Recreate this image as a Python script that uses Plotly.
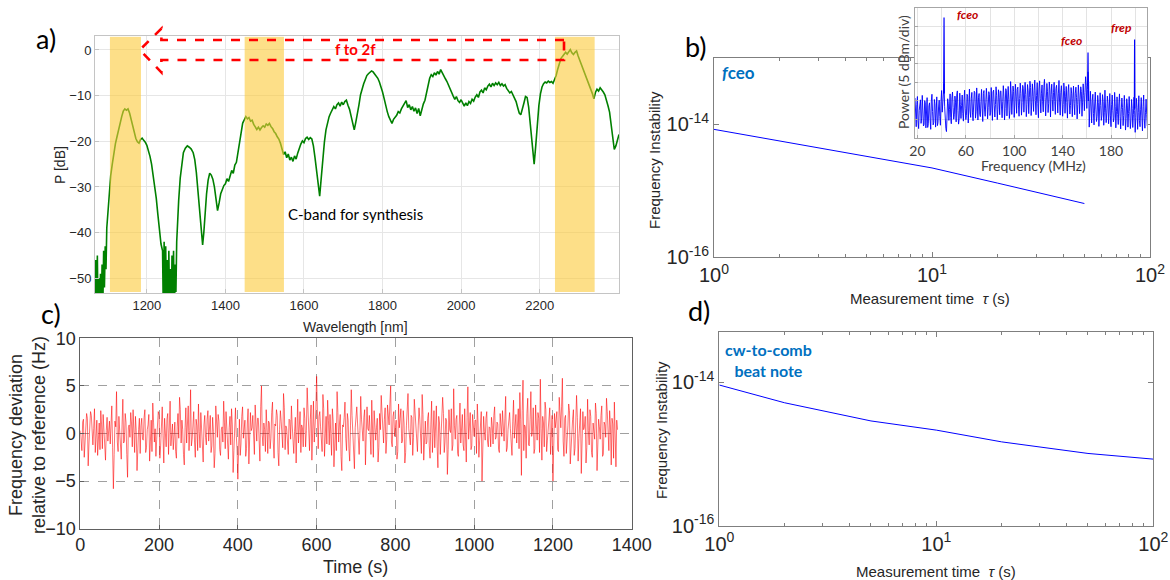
import plotly.graph_objects as go

# ---------------------------------------------------------------- data
# a) supercontinuum spectrum
wl_nm = [1068, 1070, 1072, 1074, 1076, 1078, 1080, 1082, 1084, 1086, 1088, 1090, 1092, 1094, 1096, 1098,
         1101, 1104, 1108, 1112, 1116, 1120, 1124, 1128, 1132, 1136, 1140, 1144, 1148, 1152, 1156, 1160,
         1164, 1168, 1172, 1176, 1180, 1184, 1188, 1192, 1196, 1200, 1204, 1208, 1212, 1216, 1220, 1224,
         1228, 1232, 1236, 1240,
         1242, 1244, 1246, 1248, 1250, 1252, 1254, 1256, 1258, 1260, 1262, 1264, 1266, 1268, 1270, 1272,
         1274, 1276, 1278,
         1281, 1285, 1289, 1293, 1298, 1303, 1308, 1313, 1318, 1322, 1326, 1330, 1334, 1338, 1342, 1345,
         1348, 1352, 1356, 1360, 1364, 1368, 1372, 1376, 1380, 1384, 1388, 1392, 1396, 1400, 1404, 1408,
         1412, 1416, 1420, 1424, 1428, 1432, 1436, 1440, 1444, 1448, 1452, 1456, 1460, 1464, 1468, 1472,
         1476, 1480, 1484, 1488, 1492, 1496, 1500, 1504, 1508, 1512, 1516, 1520, 1524, 1528, 1532, 1536,
         1540, 1544, 1548, 1552, 1556, 1560, 1564, 1568, 1572, 1576, 1580, 1584, 1588, 1592, 1596, 1600,
         1604, 1608, 1612, 1616, 1620, 1624, 1628, 1632, 1636, 1640, 1644, 1648, 1652, 1656, 1660, 1664,
         1668, 1672, 1676, 1680, 1684, 1688, 1692, 1696, 1700, 1704, 1708, 1712, 1716, 1720, 1724, 1728,
         1732, 1736, 1740, 1744, 1748, 1752, 1756, 1760, 1764, 1768, 1772, 1776, 1780, 1784, 1788, 1792,
         1796, 1800, 1804, 1808, 1812, 1816, 1820, 1824, 1828, 1832, 1836, 1840, 1844, 1848, 1852, 1856,
         1860, 1864, 1868, 1872, 1876, 1880, 1884, 1888, 1892, 1896, 1900, 1904, 1908, 1912, 1916, 1920,
         1924, 1928, 1932, 1936, 1940, 1944, 1948, 1952, 1956, 1960, 1964, 1968, 1972, 1976, 1980, 1984,
         1988, 1992, 1996, 2000, 2004, 2008, 2012, 2016, 2020, 2024, 2028, 2032, 2036, 2040, 2044, 2048,
         2052, 2056, 2060, 2064, 2068, 2072, 2076, 2080, 2084, 2088, 2092, 2096, 2100, 2104, 2108, 2112,
         2116, 2120, 2124, 2128, 2132, 2136, 2140, 2144, 2148, 2152, 2156, 2160, 2164, 2168, 2172, 2176,
         2180, 2184, 2186, 2190, 2194, 2198, 2202, 2206, 2210, 2214, 2218, 2222, 2226, 2230, 2234, 2238,
         2242, 2246, 2250, 2254, 2258, 2262, 2266, 2270, 2274, 2278, 2282, 2286, 2290, 2294, 2298, 2302,
         2306, 2310, 2314, 2318, 2322, 2326, 2330, 2334, 2338, 2342, 2346, 2350, 2354, 2358, 2362, 2366,
         2370, 2374, 2378, 2382, 2386, 2390, 2394, 2398, 2402]
p_db = [-60, -46, -58, -45, -60, -50, -60, -49, -58, -47, -56, -44, -52, -43, -48, -39,
        -35, -31, -27.5, -25, -22.5, -20.5, -19, -17.3, -16, -14.6, -13.4, -12.9, -13.2, -12.9, -13.8, -15.2,
        -16.8, -18.3, -19.4, -20.1, -20.4, -19.6, -19.3, -19.8, -20.2, -20.9, -22, -23.3, -25, -27.2, -29.5, -32.5,
        -36, -39.5, -42.5, -44,
        -58, -42, -60, -43, -57, -46, -60, -44, -59, -48, -60, -45, -56, -44, -60, -47,
        -53, -42, -38,
        -33, -28, -24.6, -22.5, -21.5, -21, -21.3, -21.7, -22.5, -24, -26.8, -30.5, -35, -39.5, -42.7, -40,
        -35.5, -31.5, -28.5, -27, -27.4, -28.3, -30, -33, -35.2, -33.5, -31.5, -30.6, -29.7, -29.3, -28.2, -28.8,
        -27.3, -26.4, -27, -25.2, -24.6, -22.4, -20.3, -17.8, -16, -15.3, -14.6, -15.1, -14.8, -15.6, -15.4, -16.3,
        -16.8, -17.4, -16.9, -17.5, -17, -16.6, -16.9, -16.2, -16.5, -16.1, -16.8, -17.2, -17.9, -18.3, -19, -19.5,
        -20.4, -21.8, -22.9, -22.3, -23.6, -22.8, -24.1, -23.5, -24.4, -23.2, -23.9, -22.6, -21.4, -20.6, -19.9, -20.3,
        -19.4, -19.1, -19.6, -19.2, -19.5, -21, -23.5, -26.5, -30, -32, -28, -23, -20.2, -17.5, -15.8, -14.6,
        -13.8, -13.2, -12.4, -12.9, -12, -11.6, -12.3, -11.4, -12, -11.3, -11, -12.1, -13, -14.5, -16.2, -17.5,
        -15.8, -14.2, -12, -9.8, -8.3, -7.4, -6.5, -5.6, -5.2, -4.9, -4.6, -4.8, -5.3, -5.6, -6.2, -7,
        -8, -9.2, -10.6, -12.2, -13.5, -14.6, -15.6, -16.1, -15.2, -14.7, -14.3, -13.5, -13.8, -12.9, -12.3, -11.5,
        -11.1, -12.6, -12, -13.1, -12.4, -13.4, -12.7, -13.9, -12.8, -14.4, -13, -11.8, -11, -9.2, -7.7, -6.2,
        -5.4, -5.8, -5, -5.5, -4.7, -5.3, -4.3, -5.1, -5.6, -6.3, -6.9, -7.8, -8.6, -9.3, -10.1, -10.8,
        -10.2, -11.1, -11.5, -10.9, -11.8, -12.3, -11.6, -12.2, -11.3, -11.7, -10.8, -11.2, -10.3, -9.8, -10.4, -9.2,
        -8.8, -9.4, -8.3, -8.7, -7.9, -7.5, -8.1, -7.3, -7.8, -7.2, -7.6, -7.1, -7.8, -7.4, -7.9, -7.6,
        -8.4, -8.9, -9.4, -9.1, -9.8, -10.4, -11.3, -12.6, -13.8, -14.2, -13.1, -11.6, -10.2, -10.4, -12.5, -16,
        -20.5, -24.5, -25, -21, -15.8, -12.2, -9.6, -8.1, -7.4, -7, -7.2, -6.8, -7.1, -6.9, -7.3, -6.6,
        -5.6, -4.2, -2.8, -1.9, -1.4, -0.8, -0.5, -0.9, -0.3, 0.1, -0.6, -1, -0.5, -0.2, -1.3, -2.2,
        -3, -4, -4.8, -5.7, -6.6, -7.5, -8.3, -9.5, -10.7, -9.3, -8.6, -9, -8.3, -8.7, -9.2, -9.8,
        -10.8, -12.2, -13.6, -16.5, -19.8, -21.8, -21, -19.5, -18.5]

# highlighted bands (nm)
band_lo = [1106, 1449, 2239]
band_hi = [1185, 1549, 2340]

# f-to-2f arrow outline (nm, dB)
arrow_nm = [2262, 1237, 1237, 1182, 1237, 1237, 2262]
arrow_db = [2.2, 2.2, 4.7, 0.0, -4.9, -2.2, -2.2]

# b) fceo instability
tau_b = [1, 2, 5, 10, 20, 50]
adev_b = [8.4e-15, 5.6e-15, 3.3e-15, 2.2e-15, 1.3e-15, 6.4e-16]

# b) inset RF spectrum: samples on whole MHz (18..210) and on half MHz (18.5..209.5)
rf_f0, rf_f1 = 18, 210
rf_pow = [10.8, 3.1, 11.2, 2.6, 9.7, 4.0, 11.5, 3.3, 10.1, 2.8, 10.9, 3.9, 9.5, 2.4, 11.8, 3.6, 10.4, 3.0, 11.1, 4.2,
          10.2, 3.5, 12.8, 9.5, 14.6, 4.2, 1.8, 10.6, 4.8, 11.9, 3.9, 12.4, 5.1, 11.3, 4.4, 12.7, 3.8, 12.1, 5.3, 11.6,
          4.6, 12.9, 5.0, 11.8, 4.1, 13.2, 5.6, 12.3, 4.7, 12.6, 5.4, 13.5, 4.9, 12.0, 5.8, 13.1, 4.5, 12.8, 5.9, 13.4,
          5.2, 12.5, 6.1, 13.6, 4.8, 12.9, 5.7, 13.8, 5.0, 13.0, 6.3, 12.7, 5.5, 14.1, 4.9, 13.3, 6.0, 13.9, 5.3, 15.2,
          6.4, 14.0, 5.6, 14.5, 6.7, 13.7, 5.9, 14.8, 6.2, 14.2, 7.0, 15.0, 5.8, 14.4, 6.6, 15.3, 6.1, 14.6, 7.2, 15.6,
          6.3, 14.9, 5.5, 15.4, 6.8, 14.3, 7.1, 15.8, 6.0, 14.7, 6.9, 15.1, 5.7, 14.5, 7.3, 15.0, 6.4, 14.2, 6.8, 15.5,
          6.2, 14.1, 5.9, 14.8, 6.7, 13.9, 5.4, 14.4, 6.5, 13.6, 5.8, 14.0, 6.3, 13.7, 5.2, 14.3, 6.6, 13.8, 5.9, 14.6,
          7.4, 16.5, 8.0, 17.8, 3.0, 12.6, 4.1, 11.8, 3.6, 12.4, 4.5, 11.5, 3.2, 12.2, 4.8, 11.7, 3.5, 12.9, 4.2, 11.3,
          3.9, 12.0, 3.1, 11.6, 4.4, 12.3, 2.8, 11.1, 3.7, 11.9, 2.5, 10.8, 3.4, 11.5, 2.2, 10.6, 3.0, 11.2, 2.6, 10.4,
          2.9, 11.0, 1.6, 10.7, 2.4, 11.4, 3.1, 10.9, 2.0, 11.6, 2.7, 10.5, 3.3]
rf_pow_half = [6.2, 9.1, 4.8, 7.5, 10.3, 5.4, 8.0, 3.7, 9.6, 6.6, 2.9, 8.7, 5.1, 10.0, 7.2, 4.3, 9.3, 6.0, 3.4, 8.4,
               5.8, 9.9, 7.0, 13.5, 8.6, 2.6, 6.9, 9.4, 7.7, 5.6, 10.8, 8.2, 6.3, 9.7, 11.6, 7.4, 5.2, 9.0, 8.8, 6.7,
               10.1, 7.9, 6.1, 11.3, 8.5, 7.3, 10.6, 6.8, 9.2, 12.2, 7.1, 8.9, 11.0, 6.5, 9.8, 8.1, 12.0, 7.6, 9.5, 10.4,
               8.3, 11.7, 7.0, 10.2, 12.4, 8.7, 9.1, 11.4, 7.8, 10.9, 12.6, 8.4, 9.9, 11.1, 8.0, 12.8, 9.3, 10.5, 7.5, 11.9,
               10.0, 12.5, 9.2, 11.3, 13.1, 8.9, 10.7, 12.0, 9.6, 13.4, 10.3, 11.8, 9.0, 12.7, 10.9, 13.6, 9.5, 11.2, 12.9, 10.1,
               11.5, 9.3, 13.2, 10.6, 12.1, 9.8, 13.7, 11.0, 10.2, 12.6, 9.4, 13.0, 11.7, 10.4, 12.3, 9.9, 13.3, 10.8, 11.9, 9.7,
               12.2, 10.5, 9.1, 12.8, 11.1, 9.6, 12.4, 10.0, 8.8, 11.9, 10.6, 9.3, 12.1, 10.9, 9.0, 11.6, 10.3, 12.5, 9.7, 11.4,
               12.3, 14.2, 13.0, 15.0, 7.9, 8.4, 10.1, 6.6, 9.2, 7.8, 5.9, 9.6, 7.3, 8.8, 6.2, 9.9, 7.0, 8.1, 6.8, 9.4,
               7.6, 6.0, 9.0, 7.4, 5.5, 8.6, 7.1, 6.4, 9.2, 5.8, 7.7, 8.3, 6.1, 7.9, 5.3, 8.9, 6.6, 7.2, 5.0, 8.0,
               6.3, 7.5, 5.6, 8.2, 6.9, 4.8, 7.8, 6.0, 8.5, 5.2, 7.0, 6.4]
# beat-note peaks (MHz, dB above floor)
peak_f = [[41.7, 42.0, 42.3], [160.7, 161.0, 161.3], [199.3, 199.5, 199.7]]
peak_p = [[12.0, 32.4, 12.0], [14.0, 23.0, 10.0], [8.0, 26.5, 8.0]]

# c) frequency deviation, readings every 2 s (t = 0, 4, 8 ... and t = 2, 6, 10 ...)
dt_c = 2
dev_hz_even = [0.3, -1.8, 1.5, -0.6, 2.1, -3.4, 0.8, 1.9, -1.2, 2.6, -0.4, -2.3, 1.1, 2.4, -1.6, 0.5, -2.8, 1.7, 0.2, -1.1,
               2.9, -5.8, 1.3, 4.4, -1.9, 0.6, -2.7, 3.6, -0.8, 1.2, -4.6, 0.9, 2.2, -1.4, -0.3, 1.8, -3.9, 0.4, -2.1, 1.6,
               -0.7, 2.5, -1.5, 0.9, -2.9, 1.4, 3.2, -0.9, -2.4, 0.7, 1.9, -1.3, 2.8, -3.1, 0.1, 1.5, -2.2, 3.4, -0.5, -1.7,
               1.2, -2.6, 2.1, 3.8, -1.0, 0.4, -3.3, 2.7, 1.1, -1.8, 4.6, -0.6, 2.3, -2.5, 0.8, 3.1, -1.5, 0.2, -3.0, 1.9,
               -1.2, 2.4, 0.5, -2.0, 1.7, -3.6, 2.9, -0.4, 1.3, -2.3, 0.7, 3.4, -1.6, 0.1, -2.7, 1.8, 2.6, -4.1, 0.9, -0.2,
               -4.8, 1.5, -1.1, 2.8, 0.3, -2.4, 1.0, -3.2, 2.2, 0.6, -1.5, 3.0, -0.8, 1.6, -2.9, 5.0, -1.3, 0.4, 2.5, -2.1,
               1.1, -0.5, 3.3, -2.6, 0.8, 1.9, -3.4, 2.4, -0.9, 4.2, -1.7, 0.5, -2.2, 1.4, 2.9, -1.0, 0.2, -3.1, 3.6, 1.2,
               -2.0, 0.6, 2.7, -1.4, 4.8, -0.3, 1.5, -2.8, 3.4, 0.9, 6.0, -1.6, 2.3, -0.7, 4.1, -2.4, 1.8, 3.5, -1.2, 0.4,
               2.6, -3.5, 1.1, 4.4, -0.9, 2.0, -3.9, 0.7, 3.3, -1.8, 1.4, -2.9, 4.6, 0.2, -3.7, 2.4, 1.0, -2.2, 3.9, -0.5,
               1.7, -3.3, 2.8, 0.3, -1.6, 3.5, -2.5, 1.2, 0.6, -3.0, 2.1, 4.0, -0.8, 1.5, -2.1, 3.0, 0.9, 5.0, -1.4, 2.3,
               0.4, -2.7, 3.1, 1.6, -1.0, 2.4, -3.1, 0.8, 4.2, -0.6, 1.9, -2.3, 3.6, 0.2, -1.9, 2.7, -0.4, 4.1, -2.8, 1.3,
               -0.9, 2.2, -2.6, 3.4, 0.7, -1.5, 2.9, -3.6, 1.1, 0.4, 3.8, -2.0, 1.6, -4.3, 2.5, 0.1, -1.8, 4.7, -0.6, 1.9,
               -2.4, 3.2, 0.8, -1.2, 2.6, -3.0, 4.9, 0.5, -1.7, 2.0, -0.3, 1.4, 3.1, -2.5, 0.9, -5.0, 1.8, -0.7, 2.3, -1.4,
               0.6, 1.7, -1.1, 2.8, -0.4, 1.0, -2.0, 0.3, 2.4, -0.8, 3.9, -1.5, 1.2, 0.5, -2.3, 3.5, 0.8, -1.0, 2.6, 4.3,
               -4.4, 5.6, 0.9, -2.6, 3.7, -1.3, 4.4, 0.2, -2.1, 3.0, -0.7, 1.6, 5.7, -2.8, 1.1, 3.3, -1.9, 0.5, 2.7, -0.4,
               -5.0, 2.1, 1.3, -1.7, 3.8, 0.6, 5.8, -2.4, 1.9, -0.9, 3.1, -3.2, 0.4, 2.5, -1.6, 4.0, -2.9, 1.2, -4.2, 2.3,
               0.7, -3.1, 3.6, -1.2, 1.8, -2.5, 0.3, 3.2, -3.9, 1.5, -0.6, 2.9, -2.2, 0.9, 3.7, -1.4, 2.4, -3.3, 1.0, 3.3,
               -3.5, 0.4]
dev_hz_odd = [-0.9, 1.2, -2.5, 0.4, 1.6, -1.1, 2.3, -0.7, 0.5, -2.0, 1.4, 0.2, -1.7, 0.9, 2.0, -2.4, 0.3, -0.8, 1.3, 2.2,
              -1.5, -2.2, 0.7, -0.9, 1.8, -1.2, 0.9, -1.0, 2.1, -2.2, 0.6, -0.4, 1.1, 2.5, -2.0, 0.3, -1.1, 1.6, 0.8, -0.6,
              1.7, -2.0, 0.4, 2.0, -0.8, -1.9, 1.2, 0.5, -0.6, 2.3, -2.6, 0.8, -0.2, 1.6, -1.4, 2.1, 0.6, -1.3, 1.0, 0.2,
              -1.9, 0.7, -0.5, 2.5, 1.4, -2.2, 0.6, -1.0, 2.9, 0.3, -1.3, 2.0, -0.9, 1.5, -1.8, 0.2, 2.2, -2.6, 0.9, -0.4,
              1.5, -0.8, 1.9, -1.3, 0.2, -2.1, 0.8, 2.0, -1.7, 0.4, -0.9, 1.2, 2.3, -2.4, 0.6, -1.2, 0.9, -1.8, 2.7, -1.6,
              0.7, -2.3, 1.8, -0.5, 1.4, -1.6, 2.6, -0.9, 0.3, 1.9, -2.2, 0.5, 1.6, -0.7, 2.8, -0.2, 1.1, -1.9, 0.6, 1.3,
              -1.6, 2.2, -0.9, 1.0, 2.5, -2.0, 0.4, 1.3, -1.5, 2.7, 0.8, -1.3, 1.5, -0.6, 0.9, -2.1, 1.7, 0.5, -1.0, 2.3,
              0.9, -1.4, 1.6, 0.3, 2.1, -1.8, 3.0, 0.6, -0.9, 2.4, -0.4, 1.8, 0.7, -1.9, 2.6, 0.2, -1.1, 1.4, 2.0, -2.3,
              1.3, 0.4, -1.8, 2.2, 1.0, -2.4, 0.9, 1.7, -0.5, 2.1, -1.6, 0.8, 1.9, -2.0, 0.6, 2.8, -1.3, 0.3, 1.5, -0.8,
              2.5, -1.2, 0.5, 1.9, -2.2, 0.8, 2.4, -0.7, 1.6, -1.5, 0.4, 2.3, -1.0, 2.7, -0.6, 1.2, 3.1, -0.9, 1.8, -0.3,
              1.4, -1.9, 0.6, 2.6, -0.8, 1.1, -2.0, 2.3, 0.5, -1.2, 1.7, -0.4, 2.2, -1.6, 0.8, 1.5, -2.1, 2.0, 0.3, -1.1,
              1.6, -1.3, 0.9, -2.0, 2.4, 0.2, -1.4, 1.8, -2.2, 0.7, 2.1, -0.9, 1.3, -1.7, 0.4, 2.6, -1.2, 0.8, 1.5, -2.1,
              0.9, -1.0, 2.0, -1.8, 0.5, 1.7, -0.6, 2.2, -1.3, 0.6, 1.4, -2.1, 1.0, -0.7, 2.3, -1.5, 0.2, 1.6, -0.9, 0.7,
              -1.4, 0.8, 1.9, -0.6, 1.2, -1.7, 2.1, -0.3, 0.9, 1.6, -1.9, 0.4, 2.2, -1.1, 1.3, -0.5, 2.0, 0.6, -1.6, 1.5,
              2.4, -1.8, 0.7, 2.1, -1.2, 1.5, -0.3, 2.7, -1.6, 0.9, 2.2, -2.0, 0.5, 1.8, -1.4, 2.5, -0.7, 1.1, -2.2, 1.9,
              -1.1, 0.6, 2.3, -1.9, 1.2, 2.8, -0.8, 1.6, -2.1, 0.8, 2.4, -1.0, 1.5, -2.3, 0.9, 1.7, -0.5, 2.6, -1.4, 0.4,
              1.8, -1.5, 0.3, 2.5, -2.0, 1.1, -0.6, 2.1, -1.7, 0.7, 1.9, -2.4, 1.2, -0.4, 2.3, -1.8, 0.9, 1.6, -2.6, 0.5,
              1.4]

# d) cw-to-comb beat note instability
tau_d = [1, 2, 5, 10, 20, 50, 100]
adev_d = [9.2e-15, 5.2e-15, 2.9e-15, 2.16e-15, 1.48e-15, 1.02e-15, 8.5e-16]

assert len(wl_nm) == len(p_db)
assert len(rf_pow) == rf_f1 - rf_f0 + 1
assert len(rf_pow_half) == len(rf_pow) - 1
assert len(dev_hz_even) == len(dev_hz_odd) + 1

# ---------------------------------------------------------------- layout helpers
W, H = 1170, 580


def dom_x(a, b):
    return [a / W, b / W]


def dom_y(top, bottom):
    return [1 - bottom / H, 1 - top / H]


# panel boxes in pixels: left, right, top, bottom
BOX_A = (95, 619, 36.3, 293.3)
BOX_B = (714, 1150, 58, 257)
BOX_C = (80.3, 631.7, 338.3, 528.7)
BOX_D = (719.3, 1153.3, 332.3, 525.7)
BOX_I = (915, 1147.3, 7.7, 138.3)

A_XR = [1068, 2402]
A_YR = [-53.3, 3]


def a_to_paper(x, y):
    l, r, t, b = BOX_A
    xp = (l + (x - A_XR[0]) / (A_XR[1] - A_XR[0]) * (r - l)) / W
    yp = 1 - (b - (y - A_YR[0]) / (A_YR[1] - A_YR[0]) * (b - t)) / H
    return xp, yp


def interleave(first, second):
    out = []
    for i, v in enumerate(first):
        out.append(v)
        if i < len(second):
            out.append(second[i])
    return out


TXT = '#262626'
SANS = 'Liberation Sans, Arial, sans-serif'
CAL = 'Lato, Open Sans, sans-serif'

fig = go.Figure()

# a) spectrum
fig.add_trace(go.Scatter(x=wl_nm, y=p_db, mode='lines', xaxis='x', yaxis='y',
                         line=dict(color='#008000', width=1.6)))
# c) deviation
dev_hz = interleave(dev_hz_even, dev_hz_odd)
t_s = [i * dt_c for i in range(len(dev_hz))]
fig.add_trace(go.Scatter(x=t_s, y=dev_hz, mode='lines', xaxis='x2', yaxis='y2',
                         line=dict(color='rgba(255,0,0,0.8)', width=0.7)))
# b) fceo
fig.add_trace(go.Scatter(x=tau_b, y=adev_b, mode='lines', xaxis='x3', yaxis='y3',
                         line=dict(color='#0000ff', width=1)))
# d) beat note
fig.add_trace(go.Scatter(x=tau_d, y=adev_d, mode='lines', xaxis='x4', yaxis='y4',
                         line=dict(color='#0000ff', width=1)))
# inset
rf_p = interleave(rf_pow, rf_pow_half)
rf_f = [rf_f0 + 0.5 * i for i in range(len(rf_p))]
fig.add_trace(go.Scatter(x=rf_f, y=rf_p, mode='lines', xaxis='x5', yaxis='y5',
                         line=dict(color='#0000ff', width=0.9)))
for pf, pp in zip(peak_f, peak_p):
    fig.add_trace(go.Scatter(x=pf, y=pp, mode='lines', xaxis='x5', yaxis='y5',
                             line=dict(color='#0000ff', width=1.2)))

# yellow highlight bands drawn on top of the spectrum
for lo, hi in zip(band_lo, band_hi):
    fig.add_shape(type='rect', xref='x', yref='y', x0=lo, x1=hi, y0=-53, y1=2.9,
                  fillcolor='#fbc939', opacity=0.6, line_width=0, layer='above')

# dashed arrow
pts = [a_to_paper(x, y) for x, y in zip(arrow_nm, arrow_db)]
path = 'M ' + ' L '.join('%.5f,%.5f' % p for p in pts) + ' Z'
fig.add_shape(type='path', xref='paper', yref='paper', path=path,
              line=dict(color='#ff0000', width=2.6, dash='dash'), layer='above')


def lin_axis(box, horiz, **kw):
    d = dict(showline=True, mirror=True, zeroline=False, ticks='inside', ticklen=4, automargin=False)
    if horiz:
        d['domain'] = dom_x(box[0], box[1])
    else:
        d['domain'] = dom_y(box[2], box[3])
    d.update(kw)
    return d


minor_tau = [2, 3, 4, 5, 6, 7, 8, 9, 20, 30, 40, 50, 60, 70, 80, 90]
log_x = dict(type='log', range=[0, 2], tickvals=[1, 10, 100], automargin=False,
             ticktext=['10<sup>0</sup>', '10<sup>1</sup>', '10<sup>2</sup>'],
             tickfont=dict(family=SANS, size=20, color=TXT), showgrid=False, zeroline=False,
             linecolor='#7f7f7f', tickcolor='#7f7f7f', mirror='allticks',
             minor=dict(tickvals=minor_tau, ticks='inside', ticklen=3, tickcolor='#7f7f7f'))
log_y = dict(type='log', tickvals=[1e-16, 1e-14], automargin=False,
             ticktext=['10<sup>-16</sup>', '10<sup>-14</sup>'], showgrid=False, zeroline=False,
             tickfont=dict(family=SANS, size=20, color=TXT),
             linecolor='#7f7f7f', tickcolor='#7f7f7f', mirror='allticks')

fig.update_layout(
    width=W, height=H, margin=dict(l=0, r=0, t=0, b=0, pad=0),
    paper_bgcolor='white', plot_bgcolor='white', showlegend=False,
    xaxis=lin_axis(BOX_A, True, anchor='y', range=A_XR, tickvals=[1200, 1400, 1600, 1800, 2000, 2200],
                   showgrid=True, gridcolor='#e6e6e6', linecolor='#c4c4c4', tickcolor='#c4c4c4',
                   tickfont=dict(family=SANS, size=13, color=TXT)),
    yaxis=lin_axis(BOX_A, False, anchor='x', range=A_YR, tickvals=[-50, -40, -30, -20, -10, 0],
                   showgrid=True, gridcolor='#e6e6e6', linecolor='#c4c4c4', tickcolor='#c4c4c4',
                   tickfont=dict(family=SANS, size=13, color=TXT)),
    xaxis2=lin_axis(BOX_C, True, anchor='y2', range=[0, 1400], dtick=200,
                    showgrid=True, gridcolor='#a0a0a0', griddash='dash', linecolor='#606060',
                    tickcolor='#606060', tickfont=dict(family=SANS, size=18, color=TXT)),
    yaxis2=lin_axis(BOX_C, False, anchor='x2', range=[-10, 10], dtick=5,
                    showgrid=True, gridcolor='#a0a0a0', griddash='dash', linecolor='#606060',
                    tickcolor='#606060', tickfont=dict(family=SANS, size=18, color=TXT)),
    xaxis3=dict(log_x, domain=dom_x(BOX_B[0], BOX_B[1]), anchor='y3', showline=True,
                ticks='inside', ticklen=5),
    yaxis3=dict(log_y, domain=dom_y(BOX_B[2], BOX_B[3]), anchor='x3', range=[-16, -13], showline=True,
                ticks='inside', ticklen=5),
    xaxis4=dict(log_x, domain=dom_x(BOX_D[0], BOX_D[1]), anchor='y4', showline=True,
                ticks='inside', ticklen=5),
    yaxis4=dict(log_y, domain=dom_y(BOX_D[2], BOX_D[3]), anchor='x4', range=[-16, -13.3], showline=True,
                ticks='inside', ticklen=5),
    xaxis5=lin_axis(BOX_I, True, anchor='y5', range=[rf_f0, rf_f1], tickvals=[20, 60, 100, 140, 180],
                    showgrid=True, gridcolor='#e3e3e3', linecolor='#a6a6a6', tickcolor='#a6a6a6',
                    ticklen=3, tickfont=dict(family=CAL, size=14, color='#404040'),
                    minor=dict(tickvals=[40, 80, 120, 160, 200], showgrid=True, gridcolor='#e3e3e3')),
    yaxis5=lin_axis(BOX_I, False, anchor='x5', range=[0, 35], dtick=5, showticklabels=False,
                    showgrid=True, gridcolor='#e3e3e3', linecolor='#a6a6a6', tickcolor='#a6a6a6',
                    ticklen=3),
)


def note(x, y, text, size, color=TXT, family=SANS, angle=0):
    fig.add_annotation(x=x / W, y=1 - y / H, xref='paper', yref='paper', text=text, showarrow=False,
                       textangle=angle, xanchor='center', yanchor='middle',
                       font=dict(family=family, size=size, color=color))


# panel letters
note(46, 38, 'a)', 27, 'black', CAL)
note(696, 46, 'b)', 27, 'black', CAL)
note(51, 313, 'c)', 27, 'black', CAL)
note(699, 310, 'd)', 27, 'black', CAL)

# a) texts
note(356, 327, 'Wavelength [nm]', 14)
note(60, 165, 'P [dB]', 14, angle=-90)
note(356, 214, 'C-band for synthesis', 15, 'black', CAL)
note(356, 49, '<b>f to 2f</b>', 15, '#ff0000', CAL)

# b) texts
note(654, 160, 'Frequency Instability', 15, angle=-90)
note(930, 298, 'Measurement time  <i>τ</i> (s)', 15)
note(738, 73, '<b><i>f</i>ceo</b>', 17, '#0070c0', CAL)
note(1033, 165, 'Frequency (MHz)', 14, '#404040', CAL)
note(903, 72, 'Power (5 dBm/div)', 14, '#404040', CAL, angle=-90)
note(968, 15, '<b><i>fceo</i></b>', 12, '#c00000', CAL)
note(1071, 41, '<b><i>fceo</i></b>', 12, '#c00000', CAL)
note(1121, 27, '<b><i>frep</i></b>', 12, '#c00000', CAL)

# c) texts
note(355, 567, 'Time (s)', 18)
note(27, 435, 'Frequency deviation<br>relative to reference (Hz)', 18, angle=-90)

# d) texts
note(661, 430, 'Frequency Instability', 15, angle=-90)
note(936, 571, 'Measurement time  <i>τ</i> (s)', 15)
note(768, 360, '<b>cw-to-comb<br>beat note</b>', 16, '#0070c0', CAL)

# the page body has a default 8px margin; drop it so the figure sits at the window origin
fig.write_html("out.html", config={'displayModeBar': False},
               post_script="document.body.style.margin='0';document.body.style.overflow='hidden';")
